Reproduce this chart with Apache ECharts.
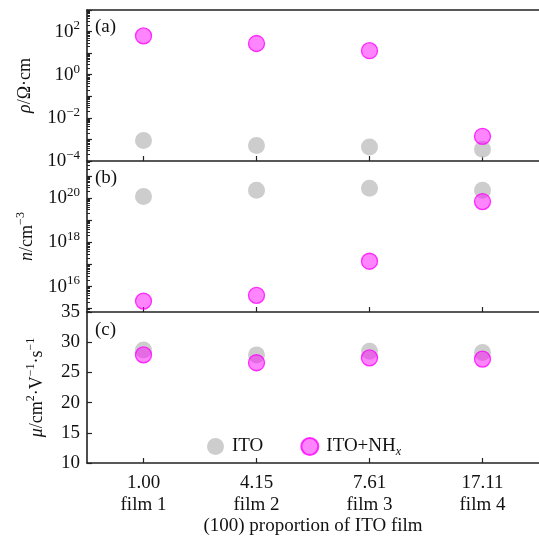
<!DOCTYPE html>
<html><head><meta charset="utf-8">
<script src="https://cdn.jsdelivr.net/npm/echarts@6/dist/echarts.min.js"></script>
<style>html,body{margin:0;padding:0;background:#fff}#c{width:539px;height:542px}</style>
</head><body><div id="c"></div>
<script>
// ---- data ----
const categories = ['1.00\nfilm 1', '4.15\nfilm 2', '7.61\nfilm 3', '17.11\nfilm 4'];
const rhoITO = [9e-4, 5.2e-4, 4.5e-4, 3.5e-4];
const rhoNH = [63, 28, 13, 1.4e-3];
const nITO = [1.2e20, 2.3e20, 2.8e20, 2.3e20];
const nNH = [2.2e15, 4.0e15, 1.4e17, 7.0e19];
const muITO = [28.7, 27.9, 28.5, 28.3];
const muNH = [27.9, 26.6, 27.4, 27.2];
const rhoLabelExp = [-4, -2, 0, 2];
const nLabelExp = [16, 18, 20];
const muTicks = [10, 15, 20, 25, 30, 35];
const seriesNames = ['ITO', 'ITO+NHx'];

// ---- helpers ----
const FONT = 'Liberation Serif';
const AX = '#222';
const lg = a => a.map(v => Math.log10(v));
function decades(lo, hi) { const r = []; for (let e = Math.ceil(lo); e <= Math.floor(hi); e++) r.push(e); return r; }
function minors(lo, hi) {
  const r = [];
  for (let e = Math.floor(lo); e <= Math.ceil(hi); e++) for (let k = 2; k <= 9; k++) {
    const v = e + Math.log10(k); if (v > lo && v < hi) r.push(v);
  }
  return r;
}
const expFmt = v => { const e = Math.round(v); return '{b|10}{s|' + (e < 0 ? '−' + (-e) : e) + '}'; };
const labelRich = {
  b: { fontFamily: FONT, fontSize: 19, lineHeight: 24, color: '#111' },
  s: { fontFamily: FONT, fontSize: 13, lineHeight: 13, verticalAlign: 'top', color: '#111' }
};
const nameRich = {
  i: { fontFamily: FONT, fontSize: 18, fontStyle: 'italic', lineHeight: 24, color: '#111' },
  r: { fontFamily: FONT, fontSize: 18, lineHeight: 24, color: '#111' },
  s: { fontFamily: FONT, fontSize: 12, lineHeight: 12, verticalAlign: 'top', color: '#111' }
};

const A = [-4, 3], B = [14.85, 21.68], C = [10, 35];
const grids = [
  { left: 87, width: 455, top: 10, height: 151 },
  { left: 87, width: 455, top: 161, height: 151 },
  { left: 87, width: 455, top: 312, height: 151 }
];

function xAx(i, showLabel) {
  return {
    type: 'category', gridIndex: i, data: categories, boundaryGap: true, position: 'bottom',
    axisLine: { show: true, onZero: false, lineStyle: { color: AX, width: 1.6 } },
    axisTick: { show: true, inside: true, alignWithLabel: true, length: 5, lineStyle: { color: AX, width: 1.2 } },
    axisLabel: showLabel ? { show: true, fontFamily: FONT, fontSize: 19, color: '#111', lineHeight: 22, margin: 9 } : { show: false },
    splitLine: { show: false },
    name: showLabel ? '(100) proportion of ITO film' : '',
    nameLocation: 'middle', nameGap: 45,
    nameTextStyle: { fontFamily: FONT, fontSize: 19, color: '#111' }
  };
}
function logMain(i, ext, labelExp, name, gap) {
  return {
    type: 'value', gridIndex: i, min: ext[0], max: ext[1], position: 'left',
    axisLine: { show: true, onZero: false, lineStyle: { color: AX, width: 1.6 } },
    axisTick: { show: true, inside: true, length: 5, customValues: decades(ext[0], ext[1]), lineStyle: { color: AX, width: 1.2 } },
    axisLabel: { show: true, customValues: labelExp, formatter: expFmt, rich: labelRich, margin: 7, showMinLabel: true, showMaxLabel: true },
    splitLine: { show: false },
    name: name, nameLocation: 'middle', nameGap: gap, nameRotate: 90,
    nameTextStyle: { rich: nameRich }
  };
}
function logMinor(i, ext) {
  return {
    type: 'value', gridIndex: i, min: ext[0], max: ext[1], position: 'left',
    axisLine: { show: false, onZero: false },
    axisTick: { show: true, inside: true, length: 3, customValues: minors(ext[0], ext[1]), lineStyle: { color: AX, width: 1 } },
    axisLabel: { show: false }, splitLine: { show: false }
  };
}

const gray = { color: '#c0c0c0' };
const mag = { color: 'rgba(255,0,255,0.6)', borderColor: '#ff00ff', borderWidth: 1.3 };
function sc(name, xi, yi, data) {
  const isNH = name === seriesNames[1];
  return {
    name: name, type: 'scatter', xAxisIndex: xi, yAxisIndex: yi, data: data,
    symbol: 'circle', symbolSize: isNH ? 16 : 17, itemStyle: isNH ? mag : gray,
    emphasis: { disabled: true }, z: isNH ? 3 : 2
  };
}

const option = {
  animation: false,
  grid: grids,
  xAxis: [
    xAx(0, false), xAx(1, false), xAx(2, true),
    { type: 'category', gridIndex: 0, data: categories, position: 'top',
      axisLine: { show: true, onZero: false, lineStyle: { color: AX, width: 1.6 } }, axisTick: { show: false }, axisLabel: { show: false } }
  ],
  yAxis: [
    logMain(0, A, rhoLabelExp, '{i|ρ}{r|/Ω·cm}', 50),
    logMinor(0, A),
    logMain(1, B, nLabelExp, '{i|n}{r|/cm}{s|−3}', 48),
    logMinor(1, B),
    {
      type: 'value', gridIndex: 2, min: C[0], max: C[1], interval: 5, position: 'left',
      axisLine: { show: true, onZero: false, lineStyle: { color: AX, width: 1.6 } },
      axisTick: { show: true, inside: true, length: 5, lineStyle: { color: AX, width: 1.2 } },
      axisLabel: { show: true, fontFamily: FONT, fontSize: 19, color: '#111', margin: 7, customValues: muTicks },
      splitLine: { show: false },
      name: '{i|μ}{r|/cm}{s|2}{r|·V}{s|−1}{r|·s}{s|−1}', nameLocation: 'middle', nameGap: 38, nameRotate: 90,
      nameTextStyle: { rich: nameRich }
    }
  ],
  legend: {
    data: seriesNames, left: 202, top: 432, orient: 'horizontal',
    itemWidth: 17, itemHeight: 17, itemGap: 37, icon: 'circle',
    formatter: n => n === 'ITO' ? '{n|ITO}' : '{n|ITO+NH}{x|x}',
    textStyle: {
      padding: [0, 0, 0, 3],
      rich: {
        n: { fontFamily: FONT, fontSize: 19, color: '#111', lineHeight: 22 },
        x: { fontFamily: FONT, fontSize: 12, fontStyle: 'italic', color: '#111', verticalAlign: 'bottom', lineHeight: 12 }
      }
    }
  },
  graphic: [
    { type: 'text', left: 95, top: 18, style: { text: '(a)', font: '19px "Liberation Serif"', fill: '#111' } },
    { type: 'text', left: 95, top: 169, style: { text: '(b)', font: '19px "Liberation Serif"', fill: '#111' } },
    { type: 'text', left: 95, top: 321, style: { text: '(c)', font: '19px "Liberation Serif"', fill: '#111' } }
  ],
  series: [
    sc(seriesNames[0], 0, 0, lg(rhoITO)),
    sc(seriesNames[1], 0, 0, lg(rhoNH)),
    sc(seriesNames[0], 1, 2, lg(nITO)),
    sc(seriesNames[1], 1, 2, lg(nNH)),
    sc(seriesNames[0], 2, 4, muITO),
    sc(seriesNames[1], 2, 4, muNH)
  ]
};
const chart = echarts.init(document.getElementById('c'), null, { renderer: 'canvas' });
chart.setOption(option);
</script>
</body></html>
